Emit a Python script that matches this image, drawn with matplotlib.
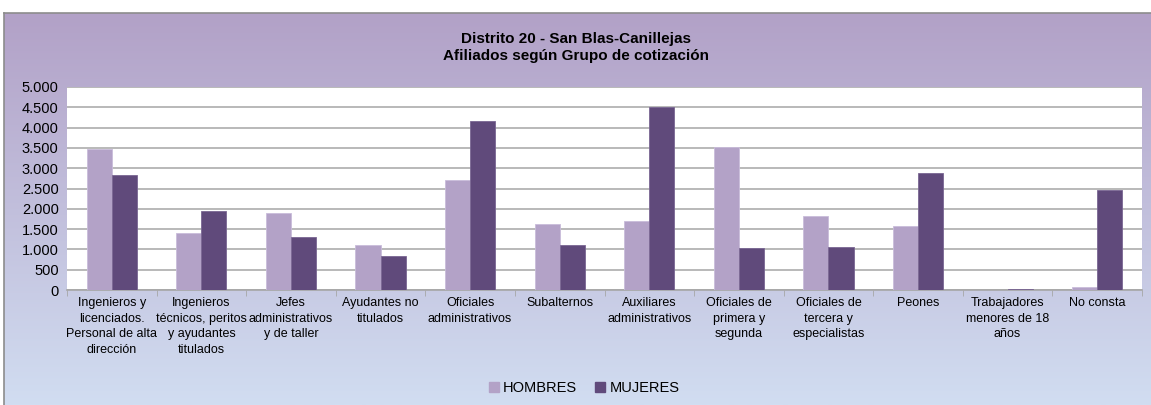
import numpy as np
import matplotlib.pyplot as plt
from matplotlib import font_manager as fm
from matplotlib.patches import Patch

# data
categorias = [
    "Ingenieros y\nlicenciados.\nPersonal de alta\ndirección",
    "Ingenieros\ntécnicos, peritos\ny ayudantes\ntitulados",
    "Jefes\nadministrativos\ny de taller",
    "Ayudantes no\ntitulados",
    "Oficiales\nadministrativos",
    "Subalternos",
    "Auxiliares\nadministrativos",
    "Oficiales de\nprimera y\nsegunda",
    "Oficiales de\ntercera y\nespecialistas",
    "Peones",
    "Trabajadores\nmenores de 18\naños",
    "No consta",
]
hombres = [3467, 1409, 1892, 1098, 2717, 1633, 1692, 3525, 1825, 1567, 5, 75]
mujeres = [2826, 1942, 1303, 844, 4167, 1115, 4508, 1025, 1066, 2883, 25, 2460]
yticks = [0, 500, 1000, 1500, 2000, 2500, 3000, 3500, 4000, 4500, 5000]
ytick_labels = ["0", "500", "1.000", "1.500", "2.000", "2.500", "3.000",
                "3.500", "4.000", "4.500", "5.000"]

installed = {f.name for f in fm.fontManager.ttflist}
narrow = "Liberation Sans Narrow" if "Liberation Sans Narrow" in installed else "Liberation Sans"

c_h = "#b3a2c7"
c_m = "#604a7b"

fig = plt.figure(figsize=(11.51, 4.05), dpi=100)

# background frame with vertical gradient
bg = fig.add_axes([4 / 1151, 0, 1147 / 1151, 392 / 405])
top = np.array([178, 161, 199]) / 255
bot = np.array([209, 221, 241]) / 255
t = np.linspace(0, 1, 256)[:, None]
grad = top[None, :] * (1 - t) + bot[None, :] * t
bg.imshow(grad[:, None, :], aspect="auto", extent=[0, 1, 0, 1])
bg.set_xticks([])
bg.set_yticks([])
for s in ["right", "bottom"]:
    bg.spines[s].set_visible(False)
for s in ["left", "top"]:
    bg.spines[s].set_color("#8c8c8c")
    bg.spines[s].set_linewidth(1.2)

fig.text(576 / 1151, 1 - 47.5 / 405,
         "Distrito 20 - San Blas-Canillejas\nAfiliados según Grupo de cotización",
         ha="center", va="center", fontsize=11, fontweight="bold",
         family="Liberation Sans", linespacing=1.3)

ax = fig.add_axes([67 / 1151, 1 - 290 / 405, 1075 / 1151, 203 / 405])
ax.set_facecolor("white")
x = np.arange(len(categorias))
w = 0.28
ax.bar(x - w / 2, hombres, w, color=c_h, edgecolor="#c9bcda", linewidth=0.6, zorder=3)
ax.bar(x + w / 2, mujeres, w, color=c_m, edgecolor="#7a6793", linewidth=0.6, zorder=3)

ax.set_xlim(-0.5, len(categorias) - 0.5)
ax.set_ylim(0, 5000)
ax.set_yticks(yticks)
ax.set_yticklabels(ytick_labels, family=narrow, fontsize=10.5)
ax.yaxis.grid(True, color="#a6a6a6", linewidth=1.1, zorder=0)
ax.tick_params(axis="y", length=0, pad=6)

ax.set_xticks(x)
ax.set_xticklabels(categorias, family=narrow, fontsize=9, linespacing=1.4)
ax.set_xticks(np.arange(len(categorias) + 1) - 0.5, minor=True)
ax.tick_params(axis="x", which="major", length=0, pad=5)
ax.tick_params(axis="x", which="minor", length=4, color="#a6a6a6", direction="out")

for s in ["top", "right", "left"]:
    ax.spines[s].set_visible(False)
ax.spines["bottom"].set_color("#a6a6a6")
ax.spines["bottom"].set_linewidth(1.2)

handles = [Patch(color=c_h, label="HOMBRES"), Patch(color=c_m, label="MUJERES")]
fig.legend(handles=handles, loc="center", bbox_to_anchor=(584 / 1151, 17 / 405),
           ncol=2, frameon=False, prop={"family": narrow, "size": 10.5},
           handlelength=0.7, handleheight=0.7, handletextpad=0.3, columnspacing=1.2)

fig.savefig("out.png", dpi=100)
